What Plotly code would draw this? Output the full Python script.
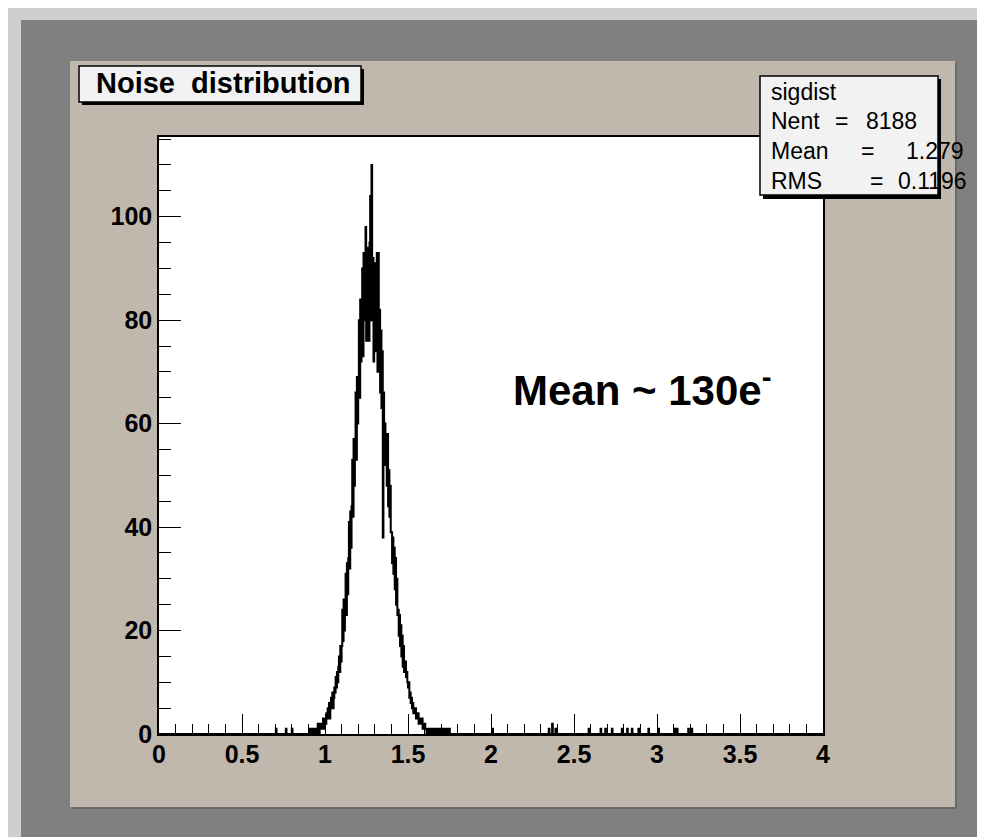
import plotly.graph_objects as go

# ---------------- data ----------------
bin_width = 0.004
n_bins = 1000            # 0 .. 4
peak_start = 0.900       # left edge of first bin in peak_counts
peak_counts = [
    0, 0, 1, 0, 0,   0, 1, 0, 0, 1,   0, 1, 1, 0, 2,   1, 0, 2, 1, 1,
    2, 1, 3, 2, 1,   3, 2, 4, 3, 5,   4, 6, 3, 5, 7,   6, 8, 5, 7, 9,
    8, 11, 9, 12, 10,   13, 15, 12, 17, 14,   17, 24, 18, 26, 20,   25, 31, 23, 33, 27,
    34, 41, 32, 43, 36,   44, 53, 42, 57, 48,   56, 66, 53, 69, 60,   68, 80, 65, 84, 72,
    76, 90, 73, 93, 80,   82, 98, 76, 94, 84,   90, 76, 95, 104, 80,   110, 81, 92, 72, 88,
    78, 91, 74, 93, 70,   93, 71, 82, 66, 78,   63, 74, 38, 66, 57,   60, 52, 56, 48, 58,
    44, 51, 42, 48, 39,   39, 33, 38, 31, 36,   28, 34, 25, 30, 23,   24, 19, 23, 17, 21,
    15, 19, 13, 17, 12,   13, 14, 11, 12, 10,   9, 10, 7, 8, 6,   7, 5, 6, 4, 5,
    4, 5, 3, 4, 3,   4, 2, 3, 2, 3,   2, 3, 1, 2, 1,   2, 1, 1, 0, 1,
    1, 0, 1, 1, 0,   0, 1, 0, 1, 0,   1, 0, 1, 0, 1,   0, 1, 0, 0, 1,
    0, 1, 0, 0, 0,   1, 0, 0, 1, 0,   0, 0, 1, 0, 0,
]
outlier_x = [0.707, 0.765, 0.802, 2.01, 2.35, 2.37, 2.39, 2.59, 2.66, 2.69, 2.73,
             2.79, 2.82, 2.85, 2.89, 2.95, 3.01, 3.11, 3.12, 3.19, 3.21]
outlier_counts = [1, 1, 1, 1, 1, 2, 1, 1, 1, 1, 1,
                  1, 1, 1, 1, 1, 1, 1, 1, 1, 1]

stats_name = "sigdist"
stats_labels = ["Nent", "Mean", "RMS"]
stats_values = ["8188", "1.279", "0.1196"]
title_text = "Noise  distribution"
note_text = "Mean ~ 130e<sup>-</sup>"

# ---------------- build histogram ----------------
counts = [0] * n_bins
i0 = round(peak_start / bin_width)
for k, c in enumerate(peak_counts):
    counts[i0 + k] += c
for xv, c in zip(outlier_x, outlier_counts):
    counts[int(xv / bin_width)] += c
edges = [i * bin_width for i in range(n_bins + 1)]
xs = edges
ys = counts + [counts[-1]]

# ---------------- geometry helpers (pixel -> paper) ----------------
W, H = 985, 837
L, R, T, B = 151, 815, 129, 726
def px(x):
    return (x - L) / (R - L)
def py(y):
    return (B - y) / (B - T)

FONT = "Liberation Sans, Arial, Helvetica, sans-serif"
fig = go.Figure()
fig.add_trace(go.Scatter(x=xs, y=ys, mode="lines", line=dict(color="black", width=2, shape="hv"),
                         hoverinfo="skip", showlegend=False))

shapes = []
def rect(x0, y0, x1, y1, fill, line_color=None, lw=0, layer="below"):
    shapes.append(dict(type="rect", xref="paper", yref="paper", layer=layer,
                       x0=px(x0), x1=px(x1), y0=py(y1), y1=py(y0), fillcolor=fill,
                       line=dict(color=line_color or fill, width=lw)))

# outer light strips
rect(0, 0, 13, H, "#cfcfcf")
rect(0, 0, W, 12, "#cfcfcf")
rect(0, H - 2, W, H, "#cfcfcf")
# panel + shadow
rect(64, 55, 949, 801, "#6a6a6a")
rect(62, 53, 947, 799, "#c0b7ad")
# plot area
rect(L, T, R, B, "white")
# title box
rect(74, 61, 356, 97, "black")
rect(71, 58, 353, 94, "#f2f2f2", "black", 1.5)
# stats box (above the frame)
rect(755, 71, 933, 191, "black", layer="above")
rect(752, 68, 930, 187, "#f2f2f2", "black", 1.5, layer="above")

ann = []
def text(x, y, s, size, bold=False, xanchor="left"):
    ann.append(dict(x=px(x), y=py(y), xref="paper", yref="paper", text=s, showarrow=False,
                    xanchor=xanchor, yanchor="middle",
                    font=dict(family=FONT, size=size, color="black", weight="bold" if bold else "normal")))

text(86, 75, title_text, 29, bold=True)
text(761, 84, stats_name, 23)
eq_x = [834, 859, 868]
val_x = [856, 896, 888]
line_y = [113, 143, 173]
for lab, val, ex, vx, ly in zip(stats_labels, stats_values, eq_x, val_x, line_y):
    text(761, ly, lab, 23)
    text(ex, ly, "=", 23, xanchor="center")
    text(vx, ly, val, 23)
text(503, 379, note_text, 42, bold=True)

fig.update_layout(
    width=W, height=H,
    margin=dict(l=L, r=W - R, t=T, b=H - B, pad=0),
    paper_bgcolor="#808080",
    plot_bgcolor="rgba(0,0,0,0)",
    shapes=shapes, annotations=ann,
    showlegend=False,
    xaxis=dict(range=[0, 4], tickmode="linear", tick0=0, dtick=0.5,
               ticks="inside", ticklen=20, tickwidth=1, tickcolor="black",
               minor=dict(ticks="inside", ticklen=10, dtick=0.1, tickcolor="black", tickwidth=1),
               showline=True, linecolor="black", linewidth=1.5, mirror=True,
               showgrid=False, zeroline=False, ticklabelstandoff=-3,
               tickfont=dict(family=FONT, size=25, color="black", weight="bold")),
    yaxis=dict(range=[0, 115.4], tickmode="linear", tick0=0, dtick=20,
               ticks="inside", ticklen=22, tickwidth=1, tickcolor="black",
               minor=dict(ticks="inside", ticklen=12, dtick=5, tickcolor="black", tickwidth=1),
               showline=True, linecolor="black", linewidth=1.5, mirror=True,
               showgrid=False, zeroline=False, ticklabelstandoff=0,
               tickfont=dict(family=FONT, size=25, color="black", weight="bold")),
)
fig.write_html("out.html")
